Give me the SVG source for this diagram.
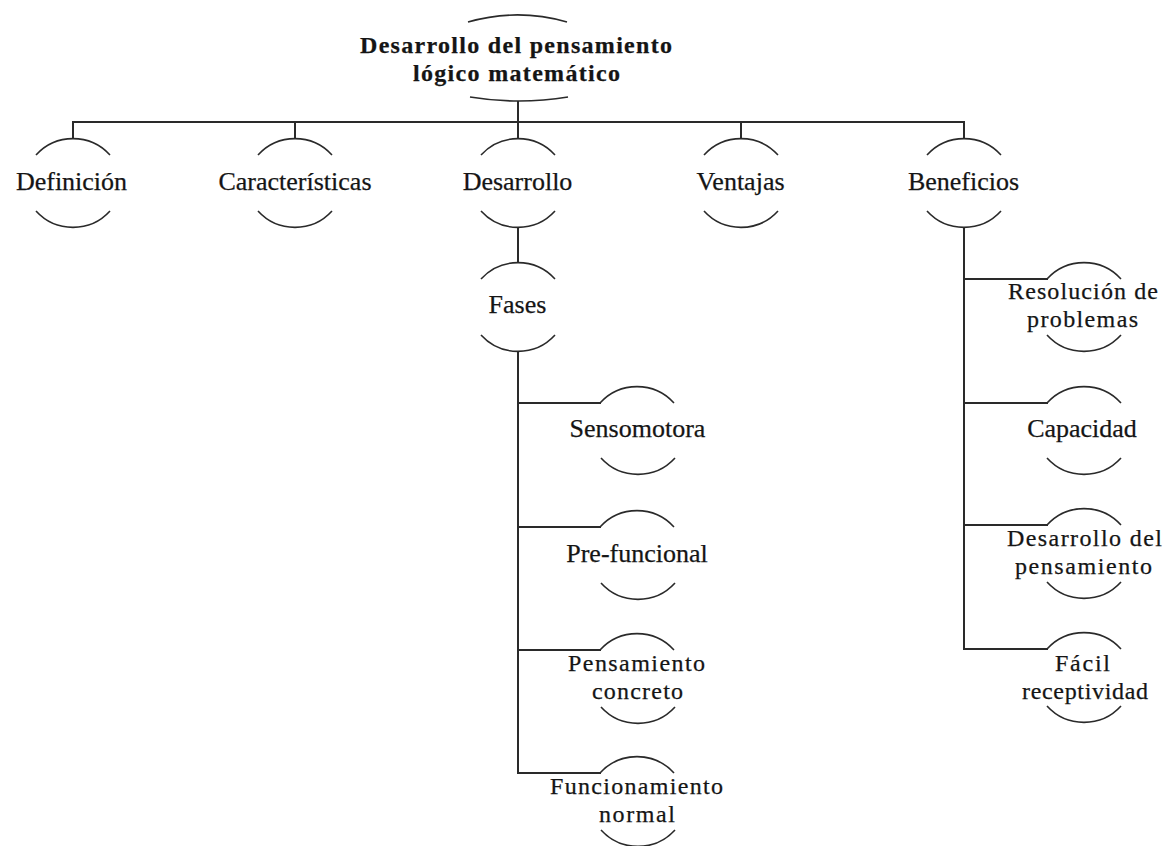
<svg xmlns="http://www.w3.org/2000/svg" width="1164" height="846" viewBox="0 0 1164 846">
<style>
.arc{fill:none;stroke:#2a2a2a;stroke-width:1.6}
.con{fill:none;stroke:#2a2a2a;stroke-width:2}
.t{font-family:"Liberation Serif","Times New Roman",serif;font-size:26px;fill:#151515;text-anchor:middle;stroke:#151515;stroke-width:0.25}
.m{font-size:24px}
.b{font-weight:bold;font-size:24px}
</style>
<rect width="1164" height="846" fill="#ffffff"/>
<g id="connectors">
<path class="con" d="M518,101 V122 M72,122 H965 M73,122 V139 M295,122 V139 M518,122 V139 M741,122 V139 M964,122 V139"/>
<path class="con" d="M518,227 V263 M518,351 V774 M517,403 H601 M517,527 H601 M517,650 H601 M517,773 H601"/>
<path class="con" d="M964,227 V650 M963,279 H1048 M963,403 H1048 M963,525 H1048 M963,649 H1048"/>
</g>
<g id="root">
<path class="arc" d="M468,22 A180,180 0 0 1 567,22"/>
<path class="arc" d="M470,97 A300,300 0 0 0 568,97"/>
<text class="t b"><tspan x="516" y="52.5" textLength="312" lengthAdjust="spacing">Desarrollo del pensamiento</tspan><tspan x="516.5" y="80.5" textLength="207" lengthAdjust="spacing">lógico matemático</tspan></text>
</g>
<g id="definicion">
<path class="arc" d="M36,155 A50,50 0 0 1 110,155"/>
<path class="arc" d="M36,211 A50,50 0 0 0 110,211"/>
<text class="t" x="71.5" y="190">Definición</text>
</g>
<g id="caracteristicas">
<path class="arc" d="M258,155 A50,50 0 0 1 332,155"/>
<path class="arc" d="M258,211 A50,50 0 0 0 332,211"/>
<text class="t" x="295" y="190">Características</text>
</g>
<g id="desarrollo">
<path class="arc" d="M481,155 A50,50 0 0 1 555,155"/>
<path class="arc" d="M481,211 A50,50 0 0 0 555,211"/>
<text class="t" x="517.5" y="190">Desarrollo</text>
</g>
<g id="ventajas">
<path class="arc" d="M704,155 A50,50 0 0 1 778,155"/>
<path class="arc" d="M704,211 A50,50 0 0 0 778,211"/>
<text class="t" x="740.5" y="190">Ventajas</text>
</g>
<g id="beneficios">
<path class="arc" d="M927,155 A50,50 0 0 1 1001,155"/>
<path class="arc" d="M927,211 A50,50 0 0 0 1001,211"/>
<text class="t" x="963.5" y="190">Beneficios</text>
</g>
<g id="fases">
<path class="arc" d="M481,279 A50,50 0 0 1 555,279"/>
<path class="arc" d="M481,335 A50,50 0 0 0 555,335"/>
<text class="t" x="517.5" y="313">Fases</text>
</g>
<g id="sensomotora">
<path class="arc" d="M600,403 A50,50 0 0 1 674,403"/>
<path class="arc" d="M601,458 A50,50 0 0 0 675,458"/>
<text class="t" x="637.5" y="437">Sensomotora</text>
</g>
<g id="prefuncional">
<path class="arc" d="M600,527 A50,50 0 0 1 674,527"/>
<path class="arc" d="M601,583 A50,50 0 0 0 675,583"/>
<text class="t" x="637" y="562">Pre-funcional</text>
</g>
<g id="pensamiento-concreto">
<path class="arc" d="M600,650 A50,50 0 0 1 674,650"/>
<path class="arc" d="M601,707 A50,50 0 0 0 675,707"/>
<text class="t m"><tspan x="636.5" y="670.5" textLength="137" lengthAdjust="spacing">Pensamiento</tspan><tspan x="637.5" y="698.5" textLength="91" lengthAdjust="spacing">concreto</tspan></text>
</g>
<g id="funcionamiento-normal">
<path class="arc" d="M600,773 A50,50 0 0 1 674,773"/>
<path class="arc" d="M601,830 A50,50 0 0 0 675,830"/>
<text class="t m"><tspan x="636.5" y="794" textLength="173" lengthAdjust="spacing">Funcionamiento</tspan><tspan x="637" y="822" textLength="76" lengthAdjust="spacing">normal</tspan></text>
</g>
<g id="resolucion">
<path class="arc" d="M1047,279 A50,50 0 0 1 1121,279"/>
<path class="arc" d="M1047,335 A50,50 0 0 0 1121,335"/>
<text class="t m"><tspan x="1083" y="298.5" textLength="150" lengthAdjust="spacing">Resolución de</tspan><tspan x="1082.5" y="326.5" textLength="111" lengthAdjust="spacing">problemas</tspan></text>
</g>
<g id="capacidad">
<path class="arc" d="M1047,403 A50,50 0 0 1 1121,403"/>
<path class="arc" d="M1047,458 A50,50 0 0 0 1121,458"/>
<text class="t" x="1082" y="437">Capacidad</text>
</g>
<g id="desarrollo-pensamiento">
<path class="arc" d="M1047,525 A50,50 0 0 1 1121,525"/>
<path class="arc" d="M1047,582 A50,50 0 0 0 1121,582"/>
<text class="t m"><tspan x="1084.5" y="545.5" textLength="155" lengthAdjust="spacing">Desarrollo del</tspan><tspan x="1083.5" y="573.5" textLength="137" lengthAdjust="spacing">pensamiento</tspan></text>
</g>
<g id="facil-receptividad">
<path class="arc" d="M1047,649 A50,50 0 0 1 1121,649"/>
<path class="arc" d="M1047,706 A50,50 0 0 0 1121,706"/>
<text class="t m"><tspan x="1082.5" y="670.5" textLength="55" lengthAdjust="spacing">Fácil</tspan><tspan x="1085" y="698.5" textLength="126" lengthAdjust="spacing">receptividad</tspan></text>
</g>
</svg>
